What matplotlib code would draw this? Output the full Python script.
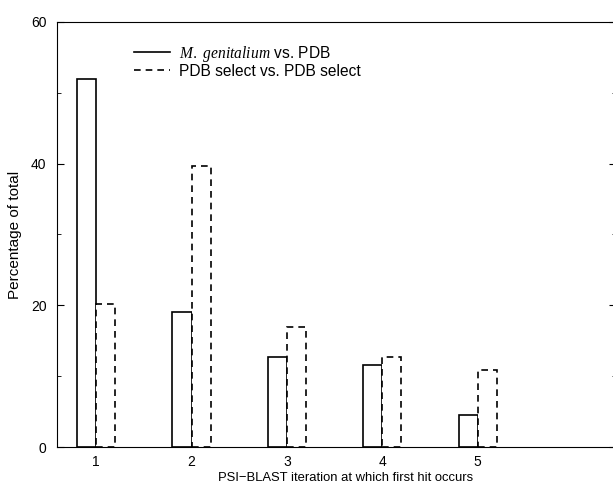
import numpy as np
import matplotlib.pyplot as plt
from matplotlib.lines import Line2D
from matplotlib.ticker import MultipleLocator

plt.rcParams['font.family'] = ['Liberation Sans', 'DejaVu Sans']
plt.rcParams['mathtext.fontset'] = 'custom'
plt.rcParams['mathtext.it'] = 'Liberation Serif:italic'
plt.rcParams['mathtext.rm'] = 'Liberation Sans'

# values
iterations = [1, 2, 3, 4, 5]
mgen_vs_pdb = [52, 19, 12.7, 11.6, 4.6]
pdbsel_vs_pdbsel = [20.2, 39.7, 16.9, 12.7, 10.9]
labels = [r'$\mathit{M.}$ $\mathit{genitalium}$ vs. PDB', 'PDB select vs. PDB select']

fig = plt.figure(figsize=(6.13, 4.86), dpi=100)
ax = fig.add_axes([0.093, 0.080, 0.912, 0.875])

x = np.array(iterations)
w = 0.2
ax.bar(x - w / 2, mgen_vs_pdb, width=w, facecolor='white', edgecolor='black',
       linewidth=1.2)
ax.bar(x + w / 2, pdbsel_vs_pdbsel, width=w, facecolor='white', edgecolor='black',
       linewidth=1.2, linestyle=(0, (4, 3)))

ax.set_xlim(0.59, 6.45)
ax.set_ylim(0, 60)
ax.set_xticks(iterations)
ax.yaxis.set_major_locator(MultipleLocator(20))
ax.yaxis.set_minor_locator(MultipleLocator(10))
ax.tick_params(axis='both', which='both', direction='in', right=True, labelsize=10)
ax.tick_params(axis='both', which='major', length=5)
ax.tick_params(axis='both', which='minor', length=3)
ax.tick_params(axis='x', length=0, pad=6)
ax.tick_params(axis='y', pad=7.5)

ax.set_xlabel('PSI\u2212BLAST iteration at which first hit occurs', fontsize=9.4)
ax.xaxis.set_label_coords(0.516, -0.058)
ax.set_ylabel('Percentage of total', fontsize=11)
ax.yaxis.set_label_coords(-0.062, 0.5)

handles = [Line2D([], [], color='black', linewidth=1.2),
           Line2D([], [], color='black', linewidth=1.2, linestyle=(0, (4, 3)))]
ax.legend(handles, labels, loc='upper left', bbox_to_anchor=(0.113, 0.982),
          frameon=False, fontsize=11.2, handlelength=2.3, handletextpad=0.55,
          labelspacing=0.0)

fig.savefig('out.png', dpi=100)
